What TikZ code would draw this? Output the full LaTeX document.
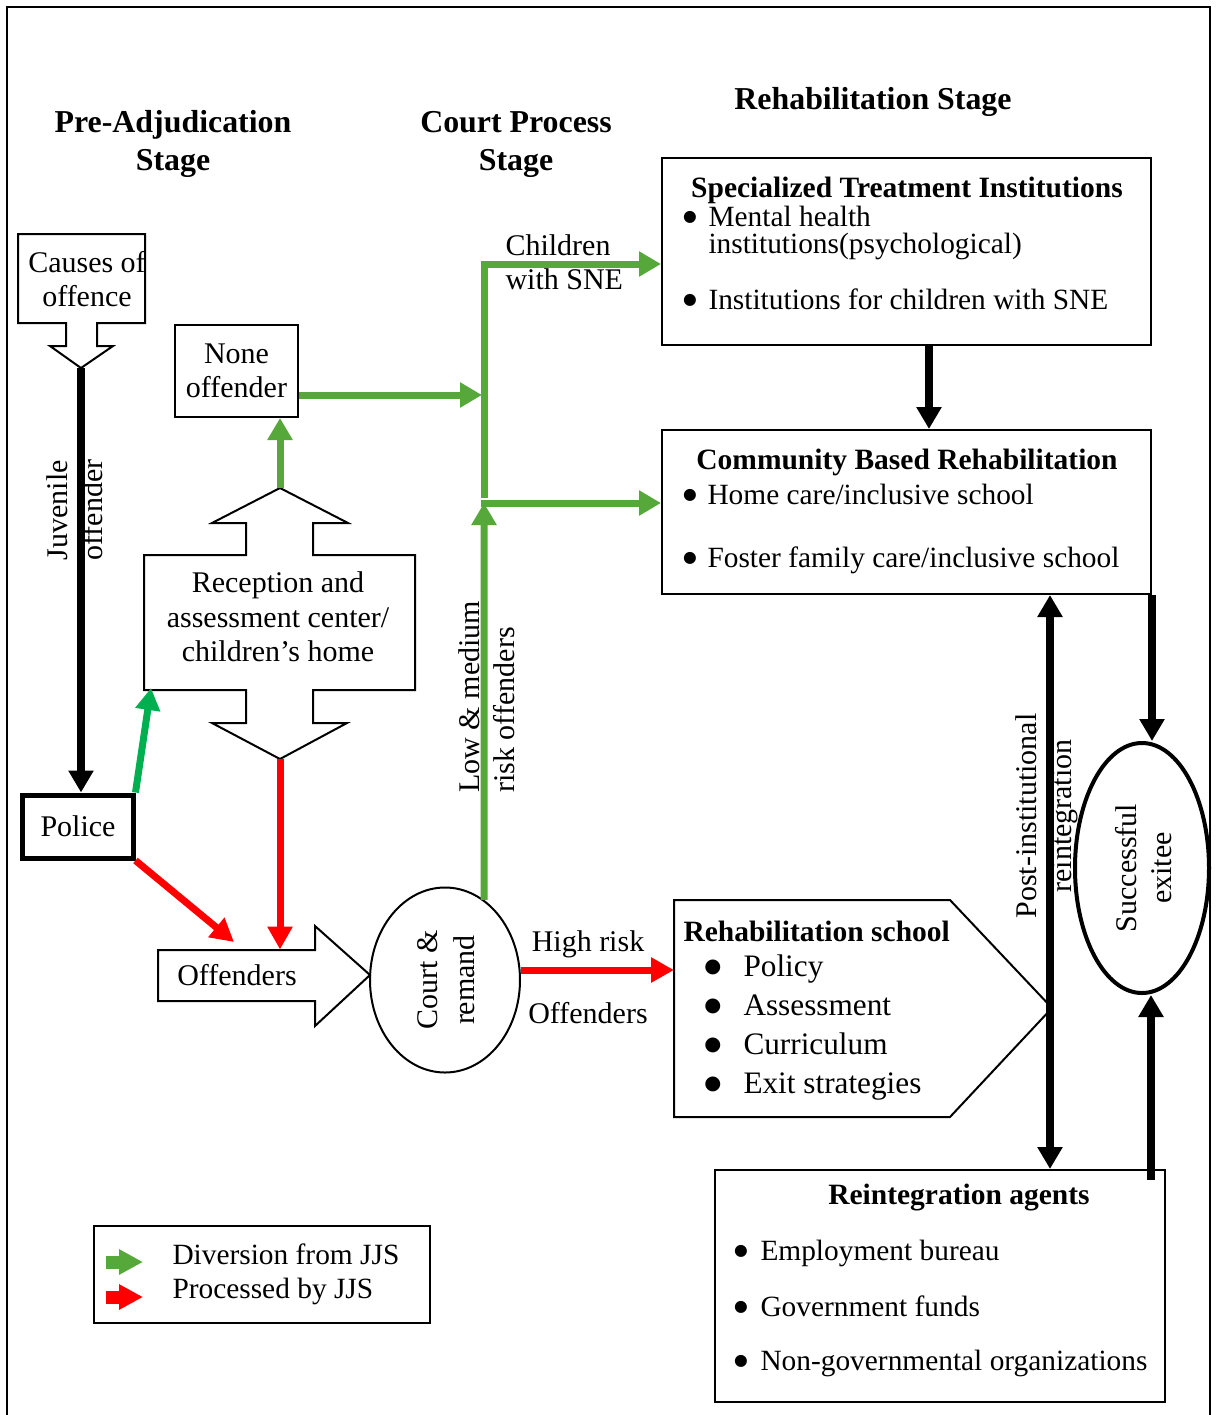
\documentclass[tikz,border=0pt]{standalone}
\usepackage{fontspec}
\setmainfont{Liberation Serif}
\newfontfamily\dejavu{DejaVu Sans}
\usetikzlibrary{arrows.meta,shapes.geometric}
\definecolor{gA}{RGB}{86,168,58}
\definecolor{gB}{RGB}{0,176,80}
\definecolor{rA}{RGB}{255,0,0}
\begin{document}
\begin{tikzpicture}[x=0.4pt,y=-0.4pt,
  txt/.style={inner sep=0pt, font=\fontsize{12}{13.8}\selectfont},
  rtxt/.style={inner sep=0pt, rotate=90, align=center, font=\fontsize{12}{14}\selectfont},
  hdr/.style={inner sep=0pt, align=center, font=\fontsize{12.75}{15.2}\selectfont\bfseries},
  ttl/.style={inner sep=0pt, font=\fontsize{11.8}{14}\selectfont\bfseries},
  itm/.style={inner sep=0pt, anchor=base west, font=\fontsize{11.75}{14}\selectfont},
  bul/.style={inner sep=0pt, anchor=center, font=\dejavu\fontsize{6.3}{7}\selectfont},
  bigbul/.style={inner sep=0pt, anchor=center, font=\dejavu\fontsize{7.8}{8}\selectfont},
  boxed/.style={draw, line width=0.8pt, inner sep=0pt},
  shp/.style={draw, line width=0.8pt, line join=miter},
  blk/.style={draw=black, line width=3.2pt, -{Triangle[length=8.8pt,width=9.6pt]}},
  dblk/.style={draw=black, line width=3.2pt, {Triangle[length=8.8pt,width=9.6pt]}-{Triangle[length=8.8pt,width=9.6pt]}},
  gar/.style={draw=gA, line width=2.8pt, -{Triangle[length=8.8pt,width=9.6pt]}},
  gbr/.style={draw=gB, line width=2.8pt, -{Triangle[length=8.8pt,width=9.6pt]}},
  rar/.style={draw=rA, line width=2.8pt, -{Triangle[length=9.2pt,width=9.6pt]}},
]
\useasboundingbox (0,0) rectangle (1219,1415);
\draw[line width=1pt] (7,1425) -- (7,7) -- (1210,7) -- (1210,1425);

% headers
\node[hdr] (h1) at (173,144) {Pre-Adjudication\\Stage};
\node[hdr] (h2) at (516,144) {Court Process\\Stage};
\node[hdr] (h3) at (873,102) {Rehabilitation Stage};

% causes of offence
\node[inner sep=0pt, minimum width=50.8pt, minimum height=35.6pt] (causes) at (81.5,278.5) {};
\draw[shp] (66,323)--(18,323)--(18,234)--(145,234)--(145,323)--(97,323)--(97,346)--(113,346)--(81,368)--(50,346)--(66,346)--cycle;
\node[txt, align=center] (causesT) at (87,279) {Causes of\\offence};
\coordinate (causesTip) at (81,368);

% police
\node[draw, line width=2pt, inner sep=0pt, minimum width=44pt, minimum height=25.2pt, font=\fontsize{12}{14}\selectfont] (police) at (78,826.5) {Police};

% none offender
\node[boxed, txt, align=center, minimum width=49.2pt, minimum height=36.8pt] (none) at (236.5,371) {None\\offender};

% reception
\node[inner sep=0pt, minimum width=108.4pt, minimum height=54pt] (recep) at (279.5,622.5) {};
\draw[shp] (144,555)--(246,555)--(246,523)--(212,523)--(280,488)--(348,523)--(313,523)--(313,555)--(415,555)--(415,690)--(313,690)--(313,723)--(347,723)--(280,759)--(212,723)--(246,723)--(246,690)--(144,690)--cycle;
\node[txt, align=center] (recepT) at (278,617) {Reception and\\assessment center/\\children’s home};
\coordinate (recepTop) at (280,488);
\coordinate (recepBot) at (280,759);
\coordinate (recepIn) at (151,688);

% offenders block arrow
\node[inner sep=0pt, minimum width=62.8pt, minimum height=20.4pt] (off) at (236.5,975.5) {};
\draw[shp] (158,950)--(315,950)--(315,926)--(370,975)--(315,1026)--(315,1001)--(158,1001)--cycle;
\node[txt] (offT) at (237,975) {Offenders};
\coordinate (offIn) at (234,942);

% court
\node[draw, ellipse, line width=0.8pt, inner sep=0pt, minimum width=60pt, minimum height=74pt] (court) at (445,980) {};
\node[rtxt, font=\fontsize{12}{14.8}\selectfont] (courtT) at (446,980) {Court \&\\remand};

% specialized
\node[boxed, minimum width=195.6pt, minimum height=74.8pt] (spec) at (906.5,251.5) {};
\node[ttl] (specT) at (907,190) {Specialized Treatment Institutions};
\node[bul] (sb1) at (690,217) {●};
\node[itm] (si1) at (708,226) {Mental health};
\node[itm] (si1b) at (708,253) {institutions(psychological)};
\node[bul] (sb2) at (690,300) {●};
\node[itm] (si2) at (708,309) {Institutions for children with SNE};

% community
\node[boxed, minimum width=195.6pt, minimum height=65.6pt] (comm) at (906.5,512) {};
\node[ttl] (commT) at (907,462) {Community Based Rehabilitation};
\node[bul] (cb1) at (690,495) {●};
\node[itm] (ci1) at (707,504) {Home care/inclusive school};
\node[bul] (cb2) at (690,558) {●};
\node[itm] (ci2) at (707,567) {Foster family care/inclusive school};

% rehabilitation school
\node[inner sep=0pt, minimum width=110pt, minimum height=86.8pt] (rschool) at (812,1008.5) {};
\draw[shp] (674,900)--(950,900)--(1052,1008)--(950,1117)--(674,1117)--cycle;
\node[ttl, anchor=west] (rsT) at (683,931) {Rehabilitation school};
\node[bigbul] (rb1) at (713,967) {●};
\node[itm, font=\fontsize{12.5}{14}\selectfont] (ri1) at (743,976) {Policy};
\node[bigbul] (rb2) at (713,1006) {●};
\node[itm, font=\fontsize{12.5}{14}\selectfont] (ri2) at (743,1015) {Assessment};
\node[bigbul] (rb3) at (713,1045) {●};
\node[itm, font=\fontsize{12.5}{14}\selectfont] (ri3) at (743,1054) {Curriculum};
\node[bigbul] (rb4) at (713,1084) {●};
\node[itm, font=\fontsize{12.5}{14}\selectfont] (ri4) at (743,1093) {Exit strategies};

% successful exitee
\node[draw, ellipse, line width=1.6pt, inner sep=0pt, minimum width=53.6pt, minimum height=100pt] (exitee) at (1142,868) {};
\node[rtxt] (exiteeT) at (1144,868) {Successful\\exitee};

% reintegration agents
\node[boxed, minimum width=180pt, minimum height=92.8pt] (reint) at (940,1286) {};
\node[ttl] (reintT) at (959,1198) {Reintegration agents};
\node[bul] (ab1) at (741,1251) {●};
\node[itm] (ai1) at (760,1260) {Employment bureau};
\node[bul] (ab2) at (741,1307) {●};
\node[itm] (ai2) at (760,1316) {Government funds};
\node[bul] (ab3) at (741,1361) {●};
\node[itm] (ai3) at (760,1370) {Non-governmental organizations};

% legend
\node[boxed, minimum width=134.4pt, minimum height=38.8pt] (legend) at (262,1274.5) {};
\coordinate (lg1a) at (106,1262);
\coordinate (lg1b) at (143,1262);
\coordinate (lg2a) at (106,1297);
\coordinate (lg2b) at (143,1297);
\draw[draw=gA, line width=5.2pt, -{Triangle[length=9.6pt,width=9.6pt]}] (lg1a) -- (lg1b);
\draw[draw=rA, line width=5.2pt, -{Triangle[length=9.6pt,width=9.6pt]}] (lg2a) -- (lg2b);
\node[itm] (lgT1) at (172,1264) {Diversion from JJS};
\node[itm] (lgT2) at (172,1298) {Processed by JJS};

% labels
\node[rtxt] (juvT) at (75,510) {Juvenile\\offender};
\node[txt, align=left, anchor=west] (childT) at (505,262) {Children\\with SNE};
\node[rtxt, align=left, anchor=west] (lowT) at (487,793) {Low \& medium\\risk offenders};
\node[txt] (highT) at (588,944) {High risk};
\node[txt] (high2T) at (588,1013) {Offenders};
\node[rtxt] (postT) at (1047,816) {Post-institutional\\reintegration};

% junction coordinates
\coordinate (j1) at (482,395);
\coordinate (j2) at (484,264);
\coordinate (j3) at (481,503);
\coordinate (jb) at (484,498);
\coordinate (jc) at (484,503);
\coordinate (hr) at (600,970);
\coordinate (d1) at (1050,597);
\coordinate (r1) at (1151,1180);

% connectors
\draw[blk] (causesTip) -- (causesTip |- police.north);
\draw[gbr] (police.north east) -- (recepIn);
\draw[rar] (police.south east) -- (offIn);
\draw[rar] (recepBot) -- (recepBot |- off.north);
\draw[gar] (recepTop) -- (recepTop |- none.south);
\draw[gar] (j1 -| none.east) -- (j1);
\draw[gar] (jb) -- (j2) -- (j2 -| spec.west);
\draw[gar] (court.64) -- (jc);
\draw[gar] (j3) -- (j3 -| comm.west);
\draw[rar] (hr -| court.east) -- (hr -| rschool.west);
\draw[blk] ([xshift=9pt]spec.south) -- ([xshift=9pt]comm.north);
\draw[blk] (comm.south east) -- (comm.south east |- exitee.north);
\draw[blk] (r1) -- (r1 |- exitee.south);
\draw[dblk] (d1 |- comm.south) -- (d1 |- reint.north);
\end{tikzpicture}
\end{document}
